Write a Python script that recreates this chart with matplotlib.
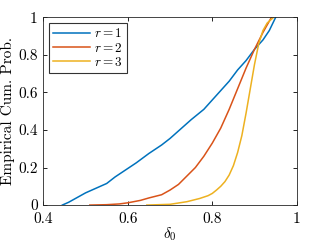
import numpy as np
import matplotlib
matplotlib.use("Agg")
import matplotlib.pyplot as plt

# ============================================================
# Data (empirical CDFs)
# ============================================================
r1_x = [0.445, 0.46, 0.48, 0.50, 0.52, 0.55, 0.57, 0.60, 0.62, 0.65, 0.68, 0.70,
        0.72, 0.75, 0.78, 0.80, 0.82, 0.84, 0.86, 0.88, 0.90, 0.92, 0.935, 0.95]
r1_y = [0.00, 0.015, 0.04, 0.065, 0.085, 0.115, 0.15, 0.195, 0.225, 0.275, 0.32, 0.355,
        0.395, 0.455, 0.51, 0.56, 0.61, 0.66, 0.72, 0.77, 0.83, 0.88, 0.93, 1.00]

r2_x = [0.51, 0.55, 0.58, 0.60, 0.63, 0.65, 0.68, 0.70, 0.72, 0.74, 0.76, 0.78,
        0.80, 0.82, 0.84, 0.86, 0.88, 0.90, 0.92, 0.94]
r2_y = [0.00, 0.002, 0.006, 0.012, 0.025, 0.038, 0.055, 0.08, 0.11, 0.155, 0.20, 0.26,
        0.33, 0.41, 0.51, 0.62, 0.73, 0.83, 0.92, 1.00]

r3_x = [0.645, 0.70, 0.74, 0.77, 0.79, 0.80, 0.81, 0.82, 0.83, 0.84, 0.85, 0.86,
        0.87, 0.88, 0.89, 0.90, 0.91, 0.92, 0.93, 0.945]
r3_y = [0.00, 0.004, 0.018, 0.035, 0.05, 0.062, 0.08, 0.10, 0.125, 0.16, 0.21, 0.28,
        0.37, 0.49, 0.62, 0.75, 0.86, 0.93, 0.97, 1.00]

labels = [r"$r=1$", r"$r=2$", r"$r=3$"]
colors = ["#0072BD", "#D95319", "#EDB120"]

xticks = [0.4, 0.6, 0.8, 1.0]
xtick_labels = ["0.4", "0.6", "0.8", "1"]
yticks = [0, 0.2, 0.4, 0.6, 0.8, 1.0]
ytick_labels = ["0", "0.2", "0.4", "0.6", "0.8", "1"]

# ============================================================
# Plot
# ============================================================
plt.rcParams["font.family"] = "cmr10"
plt.rcParams["mathtext.fontset"] = "cm"
plt.rcParams["axes.unicode_minus"] = False

fig = plt.figure(figsize=(3.27, 2.45), dpi=100)
ax = fig.add_axes([0.1325, 0.163, 0.775, 0.766])

for xs, ys, lab, c in zip([r1_x, r2_x, r3_x], [r1_y, r2_y, r3_y], labels, colors):
    ax.plot(xs, ys, color=c, lw=1.1, label=lab)

ax.set_xlim(0.4, 1.0)
ax.set_ylim(0, 1)
ax.set_xticks(xticks)
ax.set_xticklabels(xtick_labels)
ax.set_yticks(yticks)
ax.set_yticklabels(ytick_labels)
ax.tick_params(direction="in", top=True, right=True, length=3, width=0.6,
               labelsize=11)
ax.tick_params(axis="x", pad=5)
ax.tick_params(axis="y", pad=4)
for s in ax.spines.values():
    s.set_linewidth(0.6)
    s.set_color("#262626")

ax.set_xlabel(r"$\delta_0$", fontsize=11, labelpad=0)
ax.set_ylabel("Empirical Cum. Prob.", fontsize=11, labelpad=2)

leg = ax.legend(loc="upper left", fontsize=9.5, frameon=True, fancybox=False,
                edgecolor="black", handlelength=2.8, borderpad=0.3,
                labelspacing=0.1, handletextpad=0.3, borderaxespad=0.45)
leg.get_frame().set_linewidth(0.8)

fig.savefig("out.png", dpi=100)
